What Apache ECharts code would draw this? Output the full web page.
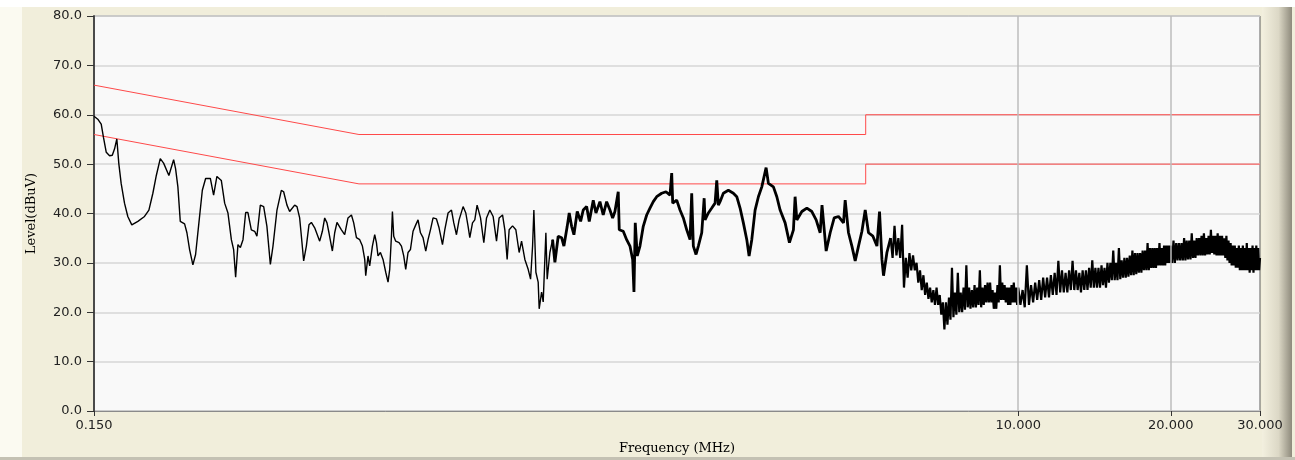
<!DOCTYPE html>
<html>
<head>
<meta charset="utf-8">
<title>Conducted Emission</title>
<script src="https://cdn.jsdelivr.net/npm/echarts@6/dist/echarts.min.js"></script>
<style>html,body{margin:0;padding:0;background:#f1eedb;}</style>
</head>
<body>
<div id="main" style="width:1295px;height:460px;"></div>
<script>
// frequency axis labels (MHz)
var xTickValues = [0.15, 10, 20, 30];

// limit lines
var limitFreq = [0.15, 0.5, 5, 5, 30];
var qpLimit = [66, 56, 56, 60, 60];
var avgLimit = [56, 46, 46, 50, 50];

// scan trace [MHz, dBuV]
var scanLow = [
  [0.150,59.7],[0.1526,59.1],[0.1550,58.1],[0.1566,55.4],[0.1586,52.4],[0.1610,51.7],[0.1630,51.8],[0.1647,53.1],
  [0.1664,55.1],[0.1679,50.1],[0.1697,46.1],[0.1723,42.1],[0.1749,39.4],[0.1781,37.7],[0.1831,38.4],[0.1887,39.4],
  [0.1925,40.7],[0.1960,44.1],[0.1991,47.7],[0.2027,51.1],[0.2058,50.2],[0.2108,47.7],[0.2154,50.9],[0.2173,49.1],
  [0.2196,45.4],[0.2220,38.4],[0.2264,37.9],[0.2288,36.1],[0.2316,32.7],[0.2351,29.6],[0.2380,31.7],[0.2416,38.1],
  [0.2454,44.7],[0.2491,47.1],[0.2545,47.1],[0.2583,43.7],[0.2622,47.5],[0.2675,46.7],[0.2716,42.1],[0.2757,40.1],
  [0.2800,34.7],[0.2829,32.7],[0.2855,27.1],[0.2885,33.7],[0.2917,33.1],[0.2952,34.7],[0.2988,40.2],[0.3019,40.2],
  [0.3066,36.7],[0.3113,36.4],[0.3145,35.4],[0.3194,41.7],[0.3243,41.4],[0.3291,37.4],[0.3343,29.7],[0.3383,33.4],
  [0.3445,40.7],[0.3514,44.7],[0.3551,44.4],[0.3605,41.7],[0.3649,40.4],[0.3733,41.7],[0.3773,41.4],[0.3819,39.1],
  [0.3849,35.4],[0.3889,30.4],[0.3937,33.4],[0.3984,37.7],[0.4028,38.2],[0.4089,37.1],[0.4183,34.4],[0.4234,36.4],
  [0.4279,39.1],[0.4324,38.1],[0.4363,36.1],[0.4431,32.4],[0.4478,36.1],[0.4525,38.2],[0.4617,36.7],[0.4686,35.7],
  [0.4757,39.1],[0.4832,39.7],[0.4882,38.1],[0.4943,35.1],[0.5017,34.7],[0.5079,33.4],[0.5133,30.7],[0.5156,27.4],
  [0.5210,31.4],[0.5250,29.4],[0.5315,33.4],[0.5371,35.7],[0.5413,34.1],[0.5452,31.4],[0.5512,32.1],[0.5578,30.7],
  [0.5647,28.1],[0.5706,26.1],[0.5750,28.7],[0.5795,35.4],[0.5821,40.4],[0.5856,35.4],[0.5909,34.4],[0.5999,34.1],
  [0.6065,33.4],[0.6128,31.4],[0.6184,28.7],[0.6249,32.1],[0.6318,32.7],[0.6393,36.4],[0.6472,37.7],[0.6540,38.7],
  [0.6612,36.1],[0.6690,35.1],[0.6773,32.4],[0.6844,34.7],[0.6919,36.7],[0.7002,39.1],[0.7111,38.9],[0.7195,37.1],
  [0.7308,33.7],[0.7385,36.7],[0.7496,40.1],[0.7613,40.7],[0.7693,38.1],[0.7788,35.7],[0.7881,38.7],[0.8026,41.4],
  [0.8125,40.1],[0.8210,37.4],[0.8274,35.1],[0.8376,38.1],[0.8464,38.7],[0.8553,41.7],[0.8687,39.1],[0.8818,34.1],
  [0.8927,39.1],[0.9062,40.7],[0.9199,39.4],[0.9342,34.4],[0.9453,39.1],[0.9601,39.7],[0.9702,36.7],[0.9804,30.7],
  [0.9894,36.7],[1.0048,37.5],[1.0200,36.7],[1.0354,32.1],[1.0468,34.4],[1.0626,30.7],[1.0787,28.7],[1.0906,26.7],
  [1.1005,33.4],[1.1070,40.7],[1.1172,28.1],[1.1289,26.1],[1.1341,20.7],[1.1465,24.1],[1.1549,22.1],[1.1691,36.1],
  [1.1760,26.7],[1.1906,32.1],[1.2053,34.7]
];

var scanMid = [
  [1.2053,34.7],[1.2180,30.1],[1.2364,35.4],[1.2557,35.1],[1.2689,33.4],[1.2881,37.4],[1.2999,40.1],[1.3142,37.4],
  [1.3280,35.7],[1.3481,40.4],[1.3691,38.4],[1.3854,40.7],[1.4070,41.4],[1.4238,38.4],[1.4499,42.7],[1.4678,40.1],
  [1.4946,42.4],[1.5171,39.7],[1.5408,42.4],[1.5641,40.7],[1.5834,39.1],[1.6001,40.4],[1.6242,44.4],[1.6317,36.7],
  [1.6616,36.4],[1.6875,34.7],[1.7131,33.4],[1.7342,30.7],[1.7445,24.1],[1.7548,38.1],[1.7709,31.4],[1.7928,33.4],
  [1.8198,37.4],[1.8483,39.7],[1.8762,41.1],[1.9046,42.4],[1.9343,43.4],[1.9787,44.1],[2.0178,44.4],[2.0550,43.7],
  [2.0709,48.2],[2.0804,42.1],[2.1186,42.7],[2.1506,40.7],[2.1833,39.1],[2.2173,36.7],[2.2508,34.7],[2.268,44.1],
  [2.2848,33.4],[2.3130,31.7],[2.3373,33.4],[2.3738,36.1],[2.400,43.1],[2.4098,38.7],[2.4462,40.1],[2.4843,41.1],
  [2.5218,42.1],[2.5414,46.7],[2.5599,41.7],[2.5797,42.4],[2.6187,44.1],[2.6790,44.7],[2.7405,44.1],[2.7833,43.4],
  [2.8254,41.1],[2.8680,38.1],[2.9129,34.7],[2.9435,31.4],[2.9798,34.7],[3.0249,40.7],[3.0707,43.4],[3.1185,45.4],
  [3.1802,49.3],[3.2136,46.1],[3.2876,45.4],[3.3389,43.4],[3.3893,40.7],[3.4673,38.1],[3.5358,34.1],[3.6006,36.7],
  [3.628,43.4],[3.6569,38.7],[3.7410,40.4],[3.8270,41.1],[3.9149,40.4],[3.9923,38.7],[4.0656,36.1],[4.100,41.7],
  [4.1781,32.4],[4.2549,36.1],[4.3331,39.1],[4.4186,39.4],[4.5201,38.1],[4.5552,42.7],[4.6242,36.1],[4.6962,33.4],
  [4.7673,30.4],[4.8395,33.4],[4.9151,36.4],[4.9893,40.7],[5.0648,36.1],[5.1671,35.4],[5.2620,33.4],[5.3244,40.4],
  [5.3829,30.7],[5.4222,27.4],[5.5067,32.1],[5.60,35]
];

var scanHigh = [
  [5.60,35],[5.65,31],[5.70,37.5],[5.75,31.5],[5.80,35],[5.85,31],[5.90,37.7],[5.95,25],[6.00,31],[6.05,27],
  [6.10,32],[6.15,28.5],[6.20,31.5],[6.25,28.5],[6.30,30],[6.35,26],[6.40,28.5],[6.45,24.5],[6.50,27.5],[6.55,23.5],
  [6.60,26],[6.65,22.7],[6.70,25],[6.75,22],[6.80,24.5],[6.85,21.5],[6.90,25],[6.95,21.5],[7.00,23.5],[7.05,19.5],
  [7.10,22],[7.15,16.5],[7.20,22],[7.25,17.5],[7.30,23],[7.35,18.5],[7.40,29],[7.45,19],[7.50,24],[7.55,19.5],
  [7.60,28],[7.65,20],[7.70,24],[7.75,20],[7.80,25],[7.85,20.5],[7.90,29.5],[7.95,21],[8.00,25],[8.05,20.7],
  [8.10,24.5],[8.15,21],[8.20,25.5],[8.25,21],[8.30,25],[8.35,21.5],[8.40,28.5],[8.45,21],[8.50,25],[8.55,21.5],
  [8.60,25.5],[8.65,22],[8.70,26],[8.75,22],[8.80,26],[8.85,22],[8.90,24.5],[8.95,20.7],[9.00,24],[9.05,20.7],
  [9.10,25.5],[9.15,22],[9.20,29.5],[9.25,22.5],[9.30,26],[9.35,22.5],[9.40,25.5],[9.45,22],[9.50,25],[9.55,21.5],
  [9.60,25],[9.65,21.5],[9.70,25.5],[9.75,22],[9.80,26],[9.85,22],[9.90,25],[9.95,21.5],[10.0,25],[10.1,21.5],
  [10.2,24.5],[10.3,21],[10.4,29.5],[10.5,21.5],[10.6,25.5],[10.7,22],[10.8,26],[10.9,22.5],[11.0,26.5],[11.1,22.5],
  [11.2,27],[11.3,23],[11.4,27],[11.5,23],[11.6,27.5],[11.7,23.5],[11.8,28],[11.9,23.5],[12.0,30.4],[12.1,24],
  [12.2,28.5],[12.3,24],[12.4,28],[12.5,24],[12.6,28.5],[12.7,24.5],[12.8,30.4],[12.9,24.5],[13.0,28.5],[13.1,24.5],
  [13.2,28],[13.3,24],[13.4,28.5],[13.5,24.5],[13.6,28.5],[13.7,24.5],[13.8,29],[13.9,25],[14.0,30.5],[14.1,25],
  [14.2,29],[14.3,25],[14.4,29],[14.5,25],[14.6,29.5],[14.7,25.5],[14.8,29],[14.9,25],[15.0,30],[15.1,26],
  [15.2,30],[15.3,26.5],[15.4,32.5],[15.5,26.5],[15.6,30],[15.7,26.5],[15.8,33],[15.9,26.7],[16.0,30.5],[16.1,27],
  [16.2,31],[16.3,27],[16.4,31],[16.5,27.2],[16.6,31.5],[16.7,27.5],[16.8,32.5],[16.9,27.5],[17.0,32],[17.1,27.7],
  [17.2,32],[17.3,28],[17.4,32],[17.5,28],[17.6,32.5],[17.7,28.5],[17.8,32.5],[17.9,28.5],[18.0,34],[18.1,28.5],
  [18.2,33],[18.3,29],[18.4,33],[18.5,29],[18.6,33],[18.7,29],[18.8,33],[18.9,29.5],[19.0,34],[19.1,29.5],
  [19.2,33],[19.3,29.5],[19.4,33.5],[19.5,29.5],[19.6,33.5],[19.7,30],[19.8,33.5],[19.9,30],
  [20.0,33.5],[20.125,30],[20.25,34.5],[20.375,30],[20.5,34],[20.625,30.5],[20.75,34],[20.875,30.5],
  [21.0,34],[21.125,30.5],[21.25,35],[21.375,30.5],[21.5,34.5],[21.625,30.7],[21.75,34.5],[21.875,30.7],
  [22.0,36],[22.125,31],[22.25,34.5],[22.375,31],[22.5,35],[22.625,31.5],[22.75,35],[22.875,31.5],
  [23.0,35.5],[23.125,31.5],[23.25,36],[23.375,31.5],[23.5,35],[23.625,31.7],[23.75,35.5],[23.875,31.7],
  [24.0,36.7],[24.125,32],[24.25,35.5],[24.375,31.7],[24.5,35.5],[24.625,31.5],[24.75,36],[24.875,31.5],
  [25.0,35.5],[25.125,31.5],[25.25,35.5],[25.375,31.5],[25.5,35],[25.625,31],[25.75,35.5],[25.875,30.5],
  [26.0,34.5],[26.125,30],[26.25,34],[26.375,29.5],[26.5,33.5],[26.625,29.5],[26.75,33.5],[26.875,29],
  [27.0,33],[27.125,29],[27.25,33.5],[27.375,28.5],[27.5,33],[27.625,28.5],[27.75,33.5],[27.875,28.5],
  [28.0,33],[28.125,28.5],[28.25,34],[28.375,28.5],[28.5,33],[28.625,28],[28.75,33],[28.875,28.5],
  [29.0,33.5],[29.125,28],[29.25,33],[29.375,28.5],[29.5,33.5],[29.625,28.5],[29.75,33],[29.875,28.5],[30.0,31]
];

var myChart = echarts.init(document.getElementById('main'));

function zip(xs, ys) {
  return xs.map(function (x, i) { return [x, ys[i]]; });
}

var labelFont = 'DejaVu Sans';
var nameFont = 'DejaVu Serif';

var option = {
  backgroundColor: '#f1eedb',
  animation: false,
  graphic: [
    { type: 'rect', silent: true, shape: { x: 0, y: 0, width: 22, height: 460 }, style: { fill: '#fbfaf1' } },
    { type: 'rect', silent: true, shape: { x: 0, y: 0, width: 1295, height: 7 }, style: { fill: '#ffffff' } },
    { type: 'rect', silent: true, shape: { x: 1262, y: 7, width: 30, height: 453 },
      style: { fill: new echarts.graphic.LinearGradient(0, 0, 1, 0, [
        { offset: 0, color: '#f3f0df' }, { offset: 0.55, color: '#dcd8c6' }, { offset: 1, color: '#8e8a7c' }]) } },
    { type: 'rect', silent: true, shape: { x: 0, y: 457, width: 1295, height: 3 }, style: { fill: '#c4c1b3' } }
  ],
  grid: {
    left: 94, right: 35, top: 16, bottom: 43,
    show: true, backgroundColor: '#f9f9f9', borderColor: '#5e5e5e', borderWidth: 1
  },
  xAxis: {
    type: 'log', logBase: 10, min: 0.15, max: 30,
    name: 'Frequency (MHz)', nameLocation: 'middle', nameGap: 31,
    nameTextStyle: { fontFamily: nameFont, fontSize: 13, color: '#000' },
    axisLine: { show: true, lineStyle: { color: '#8a8a8a', width: 1 } },
    axisTick: { show: true, length: 5, customValues: xTickValues, lineStyle: { color: '#333' } },
    axisLabel: {
      customValues: xTickValues, margin: 8,
      fontFamily: labelFont, fontSize: 13, color: '#222',
      formatter: function (v) { return v.toFixed(3); }
    },
    splitLine: { show: false },
    minorTick: { show: false }
  },
  yAxis: {
    type: 'value', min: 0, max: 80, interval: 10,
    name: 'Level(dBuV)', nameLocation: 'middle', nameGap: 56, nameRotate: 90,
    nameTextStyle: { fontFamily: nameFont, fontSize: 13, color: '#000' },
    axisLine: { show: true, lineStyle: { color: '#4a4a4a', width: 2 } },
    axisTick: { show: true, length: 7, lineStyle: { color: '#333' } },
    axisLabel: {
      margin: 12, fontFamily: labelFont, fontSize: 13, color: '#222',
      formatter: function (v) { return v.toFixed(1); }
    },
    splitLine: { lineStyle: { color: '#d6d6d6', width: 1.5 } }
  },
  series: [
    {
      name: 'AV limit', type: 'line', z: 1, symbol: 'none',
      data: zip(limitFreq, avgLimit),
      lineStyle: { color: '#ff4a4a', width: 1 },
      markLine: {
        silent: true, symbol: ['none', 'none'], label: { show: false },
        lineStyle: { color: '#bcbcbc', width: 1.5, type: 'solid' },
        data: [{ xAxis: 10 }, { xAxis: 20 }]
      }
    },
    {
      name: 'QP limit', type: 'line', z: 2, symbol: 'none',
      data: zip(limitFreq, qpLimit),
      lineStyle: { color: '#ff4a4a', width: 1 }
    },
    {
      name: 'scan low', type: 'line', z: 3, symbol: 'none',
      data: scanLow, lineStyle: { color: '#000', width: 1.4 }
    },
    {
      name: 'scan mid', type: 'line', z: 3, symbol: 'none',
      data: scanMid, lineStyle: { color: '#000', width: 2.8 }
    },
    {
      name: 'scan high', type: 'line', z: 3, symbol: 'none',
      data: scanHigh, lineStyle: { color: '#000', width: 2.2 }
    }
  ]
};

myChart.setOption(option);
</script>
</body>
</html>
